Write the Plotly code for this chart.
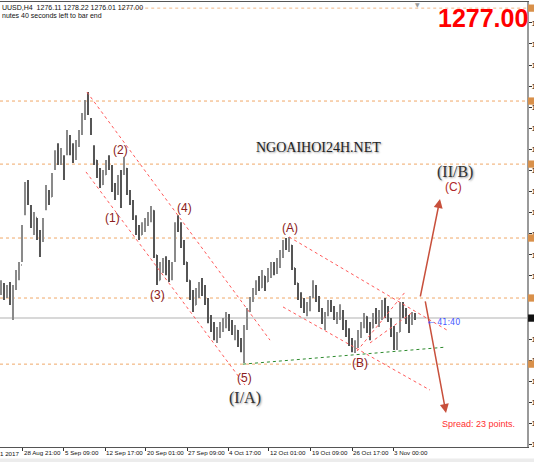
import plotly.graph_objects as go

# ---------------- data ----------------
opens = [1287.0, 1289.0, 1285.0, 1287.5, 1283.0, 1287.5, 1292.5, 1296.0, 1314.5, 1324.0,
         1317.0, 1311.0, 1313.0, 1307.0, 1305.0, 1316.0, 1322.0, 1320.5, 1330.5, 1336.0,
         1333.0, 1335.0, 1336.0, 1342.0, 1337.0, 1334.5, 1339.0, 1343.0, 1349.0, 1353.5,
         1348.0, 1338.5, 1333.5, 1329.0, 1325.0, 1328.5, 1332.5, 1331.0, 1323.5, 1321.5,
         1327.0, 1329.0, 1330.5, 1322.5, 1318.5, 1313.5, 1308.0, 1306.9, 1310.0, 1311.0,
         1314.0, 1315.5, 1299.5, 1290.6, 1295.0, 1296.5, 1293.5, 1291.0, 1297.5, 1310.0,
         1309.0, 1303.0, 1297.0, 1290.5, 1285.0, 1281.7, 1286.5, 1288.5, 1286.0, 1283.0,
         1276.0, 1273.0, 1270.0, 1272.5, 1274.0, 1276.0, 1277.5, 1273.5, 1271.5, 1272.5,
         1267.5, 1266.0, 1273.5, 1279.5, 1283.5, 1286.5, 1289.5, 1288.0, 1292.0, 1290.0,
         1294.0, 1296.0, 1293.5, 1297.5, 1300.5, 1304.0, 1302.5, 1303.0, 1295.0, 1289.5,
         1284.5, 1281.5, 1280.0, 1281.5, 1284.5, 1288.5, 1283.5, 1280.0, 1275.5, 1278.0,
         1282.5, 1280.0, 1277.0, 1278.5, 1279.5, 1274.0, 1271.0, 1268.0, 1266.0, 1268.5,
         1271.5, 1274.5, 1277.5, 1273.0, 1273.5, 1278.0, 1276.0, 1279.0, 1282.0, 1278.5,
         1276.5, 1271.5, 1267.0, 1272.0, 1282.0, 1279.0, 1276.0, 1275.0, 1278.0]
highs = [1290.6, 1289.6, 1288.9, 1289.9, 1288.9, 1294.2, 1297.1, 1310.4, 1325.8, 1326.5,
         1317.5, 1315.0, 1312.9, 1308.6, 1312.9, 1324.7, 1322.9, 1329.0, 1337.2, 1339.7,
         1338.0, 1335.4, 1344.4, 1342.6, 1339.7, 1340.8, 1344.4, 1350.5, 1355.2, 1358.0,
         1348.7, 1339.0, 1333.7, 1330.8, 1330.1, 1333.7, 1335.4, 1331.9, 1325.4, 1328.3,
         1330.1, 1334.7, 1330.8, 1322.9, 1319.3, 1313.9, 1310.4, 1311.4, 1312.9, 1315.0,
         1317.2, 1315.7, 1299.6, 1297.1, 1298.5, 1299.2, 1297.8, 1297.1, 1311.4, 1313.9,
         1311.4, 1305.0, 1297.1, 1290.6, 1287.1, 1287.8, 1289.9, 1291.4, 1288.9, 1284.2,
         1278.1, 1275.6, 1273.8, 1275.6, 1277.0, 1279.2, 1278.5, 1276.3, 1274.5, 1272.7,
         1269.9, 1274.5, 1280.6, 1284.6, 1287.8, 1290.6, 1292.1, 1294.2, 1292.1, 1295.0,
         1297.1, 1297.1, 1298.5, 1301.4, 1305.0, 1305.7, 1306.1, 1303.2, 1295.0, 1289.6,
         1286.3, 1284.2, 1282.8, 1284.9, 1290.6, 1288.9, 1284.9, 1280.6, 1279.2, 1283.5,
         1283.5, 1281.3, 1279.2, 1282.0, 1279.9, 1276.3, 1273.4, 1269.9, 1269.1, 1272.7,
         1275.6, 1278.8, 1277.7, 1275.6, 1278.8, 1280.6, 1279.9, 1283.5, 1284.2, 1281.3,
         1277.0, 1274.2, 1272.0, 1282.8, 1282.8, 1280.6, 1278.1, 1279.2, 1278.8]
lows = [1285.3, 1283.5, 1284.2, 1281.7, 1276.3, 1287.1, 1290.6, 1297.1, 1313.9, 1317.5,
        1309.3, 1306.8, 1305.0, 1298.9, 1304.3, 1315.7, 1317.5, 1320.4, 1330.1, 1331.9,
        1331.9, 1326.5, 1335.4, 1335.4, 1332.6, 1333.7, 1338.3, 1342.6, 1348.0, 1349.8,
        1342.6, 1331.9, 1327.2, 1323.6, 1324.7, 1328.3, 1330.1, 1322.2, 1319.3, 1321.1,
        1316.5, 1328.3, 1321.1, 1317.5, 1312.2, 1306.8, 1305.0, 1306.8, 1307.9, 1310.0,
        1311.4, 1298.5, 1288.9, 1290.6, 1293.2, 1292.4, 1289.9, 1290.6, 1297.1, 1307.9,
        1302.1, 1296.0, 1289.9, 1283.5, 1279.2, 1281.7, 1284.2, 1284.9, 1281.7, 1275.2,
        1272.0, 1269.1, 1268.1, 1269.9, 1272.0, 1273.4, 1272.4, 1270.9, 1269.1, 1266.6,
        1264.8, 1260.9, 1272.7, 1279.2, 1282.8, 1285.3, 1286.7, 1287.8, 1286.7, 1289.9,
        1291.4, 1292.4, 1292.8, 1295.0, 1298.5, 1301.4, 1300.7, 1294.2, 1288.9, 1283.5,
        1280.6, 1278.8, 1277.7, 1279.5, 1284.2, 1282.8, 1279.2, 1274.9, 1272.7, 1277.7,
        1279.2, 1276.3, 1274.9, 1276.3, 1272.7, 1270.2, 1267.0, 1264.8, 1264.5, 1266.3,
        1269.9, 1273.4, 1271.7, 1269.1, 1273.4, 1274.9, 1273.8, 1276.3, 1277.0, 1275.6,
        1270.2, 1265.6, 1265.6, 1272.0, 1277.0, 1274.9, 1271.7, 1274.5, 1276.3]
closes = [1289.0, 1285.0, 1287.5, 1283.0, 1287.5, 1292.5, 1296.0, 1309.0, 1324.0, 1319.0,
          1311.0, 1313.0, 1307.0, 1302.0, 1311.5, 1322.0, 1319.0, 1327.5, 1336.0, 1333.0,
          1336.5, 1329.0, 1342.0, 1337.0, 1334.5, 1339.0, 1343.0, 1349.0, 1353.5, 1351.0,
          1344.0, 1333.5, 1329.0, 1325.0, 1328.5, 1332.5, 1331.0, 1323.5, 1321.0, 1327.0,
          1318.0, 1333.0, 1322.5, 1318.5, 1313.5, 1308.0, 1306.5, 1310.0, 1311.0, 1314.0,
          1316.0, 1299.5, 1290.0, 1295.0, 1296.5, 1293.5, 1291.0, 1296.0, 1310.0, 1309.0,
          1303.0, 1297.0, 1291.0, 1285.0, 1281.0, 1286.5, 1288.5, 1286.0, 1283.0, 1276.0,
          1273.0, 1270.0, 1272.5, 1274.0, 1276.0, 1277.5, 1273.5, 1271.5, 1273.0, 1267.5,
          1266.0, 1273.5, 1279.5, 1283.5, 1286.5, 1289.5, 1287.5, 1293.0, 1288.0, 1294.0,
          1296.0, 1293.5, 1297.5, 1300.5, 1304.0, 1302.5, 1305.0, 1295.0, 1290.0, 1284.5,
          1281.5, 1280.0, 1281.5, 1284.0, 1289.0, 1283.5, 1280.0, 1275.5, 1278.0, 1282.5,
          1280.0, 1277.0, 1278.5, 1281.0, 1274.0, 1271.0, 1268.0, 1266.0, 1268.5, 1271.5,
          1274.5, 1277.5, 1273.0, 1271.0, 1278.0, 1276.0, 1279.0, 1282.0, 1278.5, 1276.5,
          1271.5, 1267.0, 1270.5, 1282.0, 1279.0, 1276.0, 1273.0, 1278.0, 1277.0]

time_labels = ["28 Aug 21:00", "5 Sep 09:00", "12 Sep 17:00", "20 Sep 01:00",
               "27 Sep 09:00", "4 Oct 17:00", "12 Oct 01:00", "19 Oct 09:00",
               "26 Oct 17:00", "3 Nov 00:00"]
time_label_bars = [7.33, 21, 34.67, 48.33, 62, 75.67, 89.33, 103.33, 117, 130.67]

level_prices = [1354.8, 1332.2, 1305.7, 1284.2, 1260.5]
top_level = 1388.1
current_price = 1277.0

wave_labels = ["(1)", "(2)", "(3)", "(4)", "(5)", "(A)", "(B)"]
wave_x = [37.3, 39.7, 52.0, 61.3, 81.3, 96.3, 119.7]
wave_y = [1312.9, 1337.2, 1285.3, 1316.5, 1255.5, 1309.3, 1260.9]

bars = list(range(len(closes)))

# ---------------- figure ----------------
fig = go.Figure()
fig.add_trace(go.Ohlc(
    x=bars, open=opens, high=highs, low=lows, close=closes,
    increasing=dict(line=dict(color="#8a8a8a", width=2)),
    decreasing=dict(line=dict(color="#555555", width=2)),
    tickwidth=0.25, hoverinfo="skip", showlegend=False))

shapes = []
for p in level_prices:
    shapes.append(dict(type="line", xref="paper", yref="y", x0=0, x1=1, y0=p, y1=p,
                       line=dict(color="#f0a868", width=1, dash="dot"), layer="below"))
    shapes.append(dict(type="rect", xref="paper", yref="y", x0=1.002, x1=1.03,
                       y0=p - 1.3, y1=p + 1.3, fillcolor="#d9904a",
                       line=dict(width=0)))
shapes.append(dict(type="line", xref="paper", yref="y", x0=0.23, x1=1, y0=top_level, y1=top_level,
                   line=dict(color="#f0b888", width=1, dash="dot"), layer="below"))
shapes.append(dict(type="rect", xref="paper", yref="y", x0=1.002, x1=1.03,
                   y0=top_level - 1.3, y1=top_level + 1.3, fillcolor="#d9904a", line=dict(width=0)))
shapes.append(dict(type="line", xref="paper", yref="y", x0=0, x1=1, y0=current_price, y1=current_price,
                   line=dict(color="#d8d8d8", width=2), layer="below"))
shapes.append(dict(type="rect", xref="paper", yref="y", x0=1.002, x1=1.03,
                   y0=current_price - 1.3, y1=current_price + 1.3, fillcolor="#111111", line=dict(width=0)))

red_dot = dict(color="#ff5a5a", width=1, dash="dot")
channel_lines = [
    (28.67, 1358.0, 89.67, 1269.1),
    (28.33, 1329.4, 81.33, 1253.0),
    (96.0, 1306.1, 148.67, 1272.7),
    (94.0, 1281.0, 143.0, 1251.2),
    (118.67, 1265.2, 134.67, 1286.3),
    (123.0, 1268.1, 137.33, 1279.2),
]
for x0, y0, x1, y1 in channel_lines:
    shapes.append(dict(type="line", xref="x", yref="y", x0=x0, y0=y0, x1=x1, y1=y1, line=red_dot))
shapes.append(dict(type="line", xref="x", yref="y", x0=80.67, y0=1260.5, x1=148.33, y1=1266.6,
                   line=dict(color="#2e8b2e", width=1, dash="dot")))
shapes.append(dict(type="rect", xref="paper", yref="paper", x0=-0.01, x1=1.05, y0=-0.06, y1=-0.026,
                   fillcolor="#ececec", line=dict(width=0), layer="below"))

annotations = []
for t, x, y in zip(wave_labels, wave_x, wave_y):
    annotations.append(dict(x=x, y=y, xref="x", yref="y", text=t, showarrow=False,
                            font=dict(family="Arial", size=12, color="#8b2020")))
annotations.append(dict(x=150.7, y=1324.0, xref="x", yref="y", text="(C)", showarrow=False,
                        font=dict(family="Arial", size=12, color="#b02828")))
serif_shadow = "1px 1px 2px #9a9a9a"
annotations.append(dict(x=81.3, y=1248.4, xref="x", yref="y", text="(I/A)", showarrow=False,
                        font=dict(family="Liberation Serif", size=16, color="#333333", shadow=serif_shadow)))
annotations.append(dict(x=151.3, y=1329.4, xref="x", yref="y", text="(II/B)", showarrow=False,
                        font=dict(family="Liberation Serif", size=16, color="#333333", shadow=serif_shadow)))
annotations.append(dict(x=105.7, y=1338.0, xref="x", yref="y", text="NGOAIHOI24H.NET", showarrow=False,
                        font=dict(family="Liberation Serif", size=14, color="#222222", shadow=serif_shadow)))
arrow_color = "#c8503c"
annotations.append(dict(x=146.33, y=1319.7, ax=139.67, ay=1284.2, xref="x", yref="y",
                        axref="x", ayref="y", text="", showarrow=True, arrowhead=2,
                        arrowsize=1.2, arrowwidth=1.5, arrowcolor=arrow_color))
annotations.append(dict(x=148.33, y=1243.0, ax=141.33, ay=1283.5, xref="x", yref="y",
                        axref="x", ayref="y", text="", showarrow=True, arrowhead=2,
                        arrowsize=1.2, arrowwidth=1.5, arrowcolor=arrow_color))
annotations.append(dict(x=0.917, y=0.963, xref="paper", yref="paper", text="<b>1277.00</b>",
                        showarrow=False, xanchor="center", yanchor="middle",
                        font=dict(family="Arial", size=25, color="#ff0000")))
annotations.append(dict(x=0.834, y=0.052, xref="paper", yref="paper", text="Spread: 23 points.",
                        showarrow=False, xanchor="left", yanchor="middle",
                        font=dict(family="Arial", size=9, color="#ff3030")))
annotations.append(dict(x=0.808, y=(447 - 322) / 445, xref="paper", yref="paper", text="← 41:40",
                        showarrow=False, xanchor="left", yanchor="middle",
                        font=dict(family="DejaVu Sans", size=8, color="#4a5cff")))
annotations.append(dict(x=0.0, y=(447 - 7) / 445, xref="paper", yref="paper",
                        text="UUSD,H4  1276.11 1278.22 1276.01 1277.00",
                        showarrow=False, xanchor="left", yanchor="middle",
                        font=dict(family="Arial", size=7, color="#111111")))
annotations.append(dict(x=0.0, y=(447 - 15) / 445, xref="paper", yref="paper",
                        text="nutes 40 seconds left to bar end",
                        showarrow=False, xanchor="left", yanchor="middle",
                        font=dict(family="Arial", size=7, color="#111111")))
annotations.append(dict(x=-0.003, y=-0.0135, xref="paper", yref="paper", text="1 2017",
                        showarrow=False, xanchor="left", yanchor="middle",
                        font=dict(family="Arial", size=6.2, color="#111111")))
annotations.append(dict(x=0.792, y=0.995, xref="paper", yref="paper", text="▼",
                        showarrow=False, xanchor="center", yanchor="middle",
                        font=dict(family="DejaVu Sans", size=6, color="#9a9a9a")))

fig.update_layout(
    width=534, height=462,
    margin=dict(l=0, r=7, t=2, b=15),
    paper_bgcolor="white", plot_bgcolor="white",
    showlegend=False,
    shapes=shapes, annotations=annotations,
    xaxis=dict(range=[-0.33, 175.33], rangeslider=dict(visible=False),
               tickmode="array", tickvals=time_label_bars, ticktext=time_labels,
               ticks="outside", ticklen=3, tickcolor="#333333", tickangle=0,
               ticklabelposition="outside right",
               tickfont=dict(family="Arial", size=6.2, color="#111111"),
               showgrid=False, zeroline=False, showline=True, linecolor="#555555",
               linewidth=1, mirror=True, automargin=False, fixedrange=True),
    yaxis=dict(range=[1230.8, 1390.3], side="right", tick0=1277.0, dtick=7.56,
               tickformat=".2f", ticks="outside", ticklen=3, tickcolor="#333333",
               ticklabelstandoff=-2,
               tickfont=dict(family="Arial", size=8, color="#111111"),
               showgrid=False, zeroline=False, showline=True, linecolor="#9a9a9a",
               linewidth=2, automargin=False, fixedrange=True),
)

fig.write_html("out.html", config={"displayModeBar": False},
               post_script="document.body.style.margin='0';document.body.style.overflow='hidden';")
